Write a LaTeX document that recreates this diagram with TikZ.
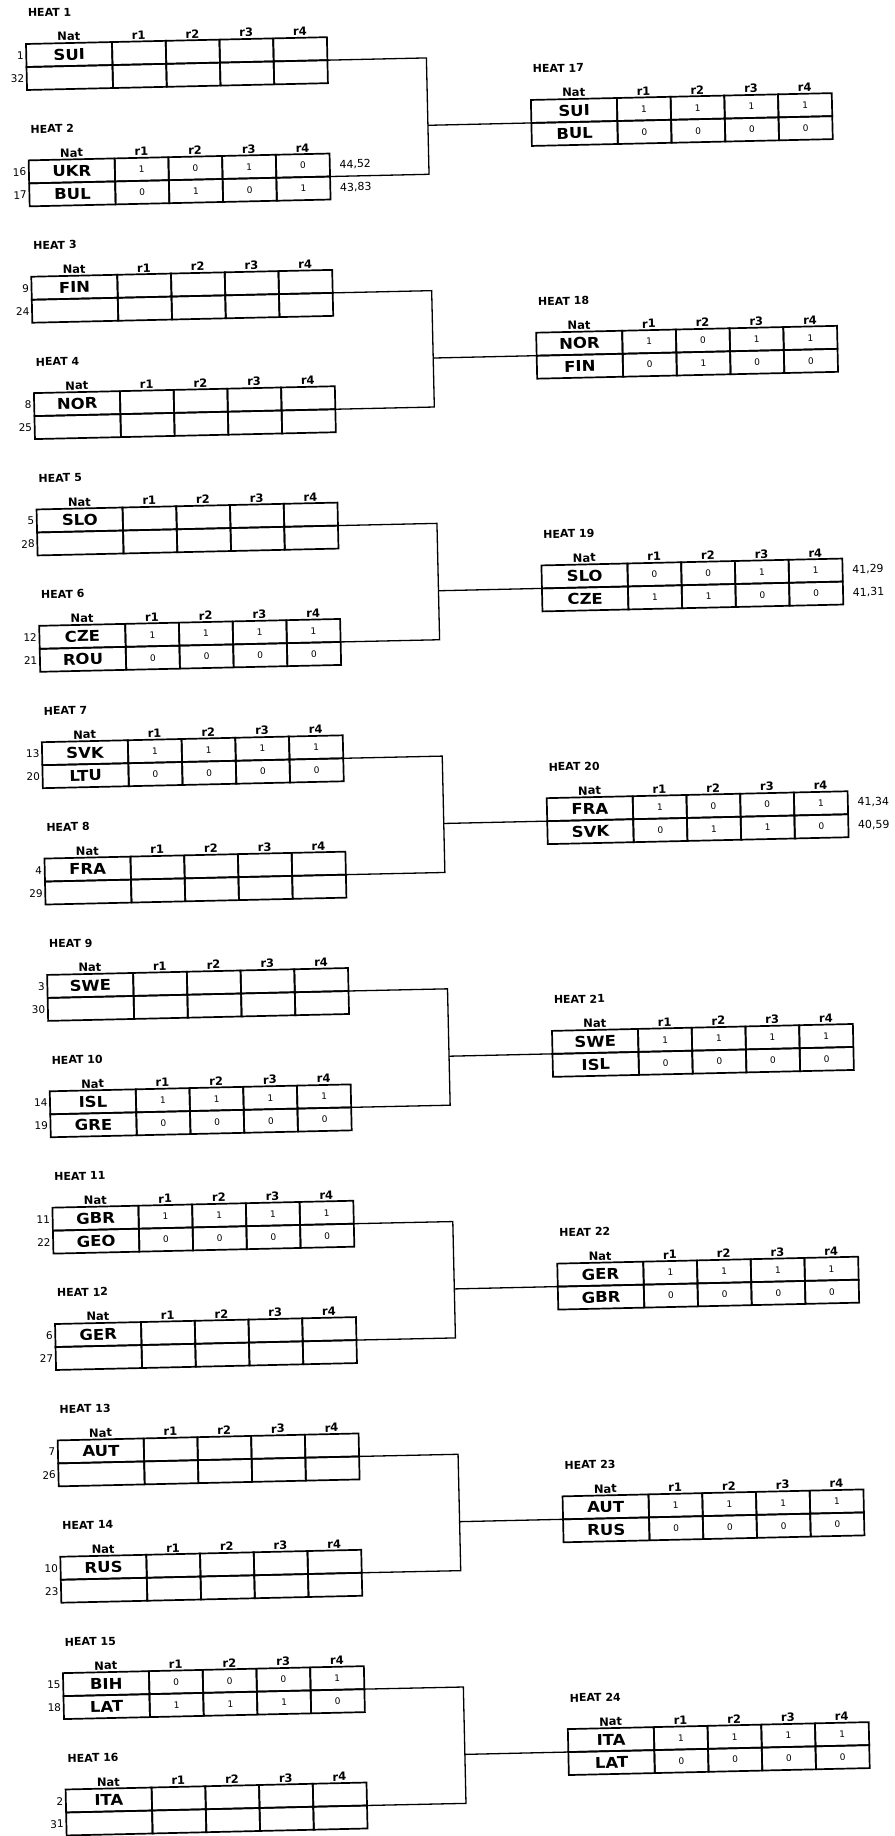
\documentclass[tikz,border=0pt]{standalone}
\usepackage{fontspec}
\setmainfont{DejaVu Sans}
\newfontfamily\natfont[FakeStretch=1.1]{DejaVu Sans}
\usetikzlibrary{math,positioning}

\tikzset{
  cell/.style={draw,line width=1.7pt,inner sep=0pt,outer sep=0pt,minimum height=23pt},
  natcell/.style={cell,minimum width=86pt,font=\natfont\bfseries\fontsize{15}{15}\selectfont},
  rcell/.style={cell,minimum width=53.75pt},
  colhead/.style={font=\bfseries\fontsize{11.5}{12}\selectfont,inner sep=1.5pt},
  heatlabel/.style={font=\bfseries\fontsize{11}{12}\selectfont,anchor=base west,inner sep=0pt},
  seed/.style={font=\fontsize{10.5}{12}\selectfont,inner sep=2pt},
  res/.style={font=\fontsize{9}{10}\selectfont,inner sep=0pt},
  score/.style={font=\fontsize{11}{12}\selectfont,inner sep=0pt},
}

\begin{document}
\begin{tikzpicture}[x=1pt,y=-1pt,line width=1.3pt]
  \path[use as bounding box,fill=white] (0,0) rectangle (894,1836);
  \begin{scope}[shift={(26,44)},rotate=1.3,every node/.append style={transform shape}]

  %first round
  \foreach \h/\sa/\sb/\na/\nb in {1/1/32/SUI/{},2/16/17/UKR/BUL,3/9/24/FIN/{},4/8/25/NOR/{},
      5/5/28/SLO/{},6/12/21/CZE/ROU,7/13/20/SVK/LTU,8/4/29/FRA/{},9/3/30/SWE/{},10/14/19/ISL/GRE,
      11/11/22/GBR/GEO,12/6/27/GER/{},13/7/26/AUT/{},14/10/23/RUS/{},15/15/18/BIH/LAT,16/2/31/ITA/{}}
  {
    \tikzmath{
      integer \k;
      \k = floor((\h-1)/2);
      \ty = 232.8*\k + 116.4*(1-mod(\h,2));
    }
    %nations
    \node (cell_\h_a_0) [natcell,anchor=north west] at (0,\ty) {\na};
    \node (cell_\h_b_0) [natcell,below=0pt of cell_\h_a_0] {\nb};
    \node (head_\h_0) [colhead,above=0pt of cell_\h_a_0] {Nat};
    %runs
    \foreach \c [remember=\c as \p (initially 0)] in {1,...,4}
    {
      \node (cell_\h_a_\c) [rcell,right=0pt of cell_\h_a_\p] {};
      \node (cell_\h_b_\c) [rcell,below=0pt of cell_\h_a_\c] {};
      \node (head_\h_\c) [colhead,above=0pt of cell_\h_a_\c] {r\c};
    }
    %label
    \node (heat_\h) [heatlabel] at (2,\ty-27) {HEAT \h};
    %seeds
    \node (seed_\h_a) [seed,left=0pt of cell_\h_a_0] {\sa};
    \node (seed_\h_b) [seed,left=0pt of cell_\h_b_0] {\sb};
  }

  %second round
  \foreach \h/\na/\nb in {17/SUI/BUL,18/NOR/FIN,19/SLO/CZE,20/FRA/SVK,
      21/SWE/ISL,22/GER/GBR,23/AUT/RUS,24/ITA/LAT}
  {
    \tikzmath{
      \ty = 67.4 + 232.8*(\h-17);
    }
    %nations
    \node (cell_\h_a_0) [natcell,anchor=north west] at (503.5,\ty) {\na};
    \node (cell_\h_b_0) [natcell,below=0pt of cell_\h_a_0] {\nb};
    \node (head_\h_0) [colhead,above=0pt of cell_\h_a_0] {Nat};
    %runs
    \foreach \c [remember=\c as \p (initially 0)] in {1,...,4}
    {
      \node (cell_\h_a_\c) [rcell,right=0pt of cell_\h_a_\p] {};
      \node (cell_\h_b_\c) [rcell,below=0pt of cell_\h_a_\c] {};
      \node (head_\h_\c) [colhead,above=0pt of cell_\h_a_\c] {r\c};
    }
    %label
    \node (heat_\h) [heatlabel] at (505.5,\ty-27) {HEAT \h};
  }

  %results
  \foreach \h/\ra/\rb in {2/{1,0,1,0}/{0,1,0,1},6/{1,1,1,1}/{0,0,0,0},7/{1,1,1,1}/{0,0,0,0},
      10/{1,1,1,1}/{0,0,0,0},11/{1,1,1,1}/{0,0,0,0},15/{0,0,0,1}/{1,1,1,0},
      17/{1,1,1,1}/{0,0,0,0},18/{1,0,1,1}/{0,1,0,0},19/{0,0,1,1}/{1,1,0,0},20/{1,0,0,1}/{0,1,1,0},
      21/{1,1,1,1}/{0,0,0,0},22/{1,1,1,1}/{0,0,0,0},23/{1,1,1,1}/{0,0,0,0},24/{1,1,1,1}/{0,0,0,0}}
  {
    \foreach \v [count=\c] in \ra
      \node (res_\h_a_\c) [res] at (cell_\h_a_\c) {\v};
    \foreach \v [count=\c] in \rb
      \node (res_\h_b_\c) [res] at (cell_\h_b_\c) {\v};
  }

  %times
  \foreach \h/\sca/\scb in {2/{44,52}/{43,83},19/{41,29}/{41,31},20/{41,34}/{40,59}}
  {
    \node (score_\h_a) [score,anchor=west,right=9pt of cell_\h_a_4] {\sca};
    \node (score_\h_b) [score,anchor=west,right=9pt of cell_\h_b_4] {\scb};
  }

  %brackets
  \foreach \k in {0,...,7}
  {
    \tikzmath{
      integer \ha, \hb, \hr;
      \ha = 2*\k+1;
      \hb = 2*\k+2;
      \hr = 17+\k;
      \yt = 232.8*\k+23;
      \yb = 232.8*\k+139.4;
      \ym = 232.8*\k+90.4;
    }
    \coordinate (brk_\k_t) at (400,\yt);
    \coordinate (brk_\k_b) at (400,\yb);
    \coordinate (brk_\k_m) at (400,\ym);
    \draw (cell_\ha_a_4.south east) -- (brk_\k_t) -- (brk_\k_b) -- (cell_\hb_a_4.south east);
    \draw (brk_\k_m) -- (cell_\hr_a_0.south west);
  }

  \end{scope}
\end{tikzpicture}
\end{document}
